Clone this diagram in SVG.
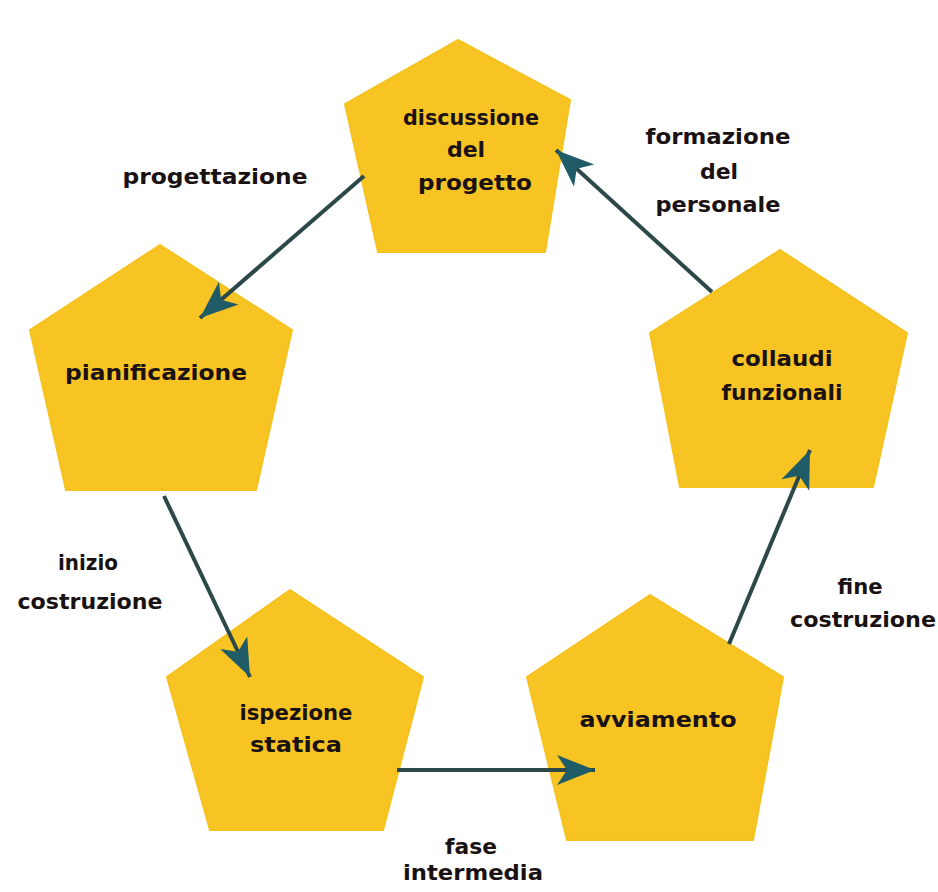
<svg xmlns="http://www.w3.org/2000/svg" width="938" height="892" viewBox="0 0 938 892">
<defs>
<style>
.node{fill:#F8C424;stroke:#F5C21E;stroke-width:2;stroke-linejoin:round}
.t{font-family:"DejaVu Sans","Liberation Sans",sans-serif;font-weight:bold;font-size:22px;fill:#1a1212;text-anchor:middle}
.con{stroke:#2c4848;stroke-width:4;fill:none}
</style>
<marker id="ah" markerUnits="userSpaceOnUse" markerWidth="44" markerHeight="34" refX="40" refY="15" orient="auto">
<path d="M40,15 L2,0 L12,15 L2,30 Z" fill="#1f5c68"/>
</marker>
</defs>
<rect width="938" height="892" fill="#ffffff"/>

<g id="node-discussione">
<polygon class="node" points="458,40 570,100 545,252 378,252 345,104"/>
<text class="t" x="471" y="125" textLength="136" lengthAdjust="spacingAndGlyphs">discussione</text>
<text class="t" x="466" y="157">del</text>
<text class="t" x="475" y="190" textLength="114" lengthAdjust="spacingAndGlyphs">progetto</text>
</g>

<g id="node-pianificazione">
<polygon class="node" points="160,245 292,330 256,490 66,490 30,330"/>
<text class="t" x="156" y="380" textLength="182" lengthAdjust="spacingAndGlyphs">pianificazione</text>
</g>

<g id="node-collaudi">
<polygon class="node" points="780,250 907,333 873,487 680,487 650,333"/>
<text class="t" x="782" y="366" textLength="101" lengthAdjust="spacingAndGlyphs">collaudi</text>
<text class="t" x="782" y="400" textLength="121" lengthAdjust="spacingAndGlyphs">funzionali</text>
</g>

<g id="node-ispezione">
<polygon class="node" points="290,590 423,677 383,830 210,830 167,677"/>
<text class="t" x="296" y="720" textLength="113" lengthAdjust="spacingAndGlyphs">ispezione</text>
<text class="t" x="296" y="752" textLength="92" lengthAdjust="spacingAndGlyphs">statica</text>
</g>

<g id="node-avviamento">
<polygon class="node" points="650,595 783,677 753,840 567,840 527,677"/>
<text class="t" x="658" y="727" textLength="157" lengthAdjust="spacingAndGlyphs">avviamento</text>
</g>

<g id="connectors">
<line class="con" x1="364" y1="176" x2="200" y2="318" marker-end="url(#ah)"/>
<line class="con" x1="164" y1="496" x2="250" y2="677" marker-end="url(#ah)"/>
<line class="con" x1="397" y1="770" x2="595" y2="770" marker-end="url(#ah)"/>
<line class="con" x1="729" y1="644" x2="810" y2="450" marker-end="url(#ah)"/>
<line class="con" x1="712" y1="292" x2="556" y2="150" marker-end="url(#ah)"/>
</g>

<g id="labels">
<text class="t" x="215" y="184" textLength="185" lengthAdjust="spacingAndGlyphs">progettazione</text>
<text class="t" x="718" y="144" textLength="145" lengthAdjust="spacingAndGlyphs">formazione</text>
<text class="t" x="719" y="179">del</text>
<text class="t" x="718" y="212" textLength="125" lengthAdjust="spacingAndGlyphs">personale</text>
<text class="t" x="88" y="570" textLength="60" lengthAdjust="spacingAndGlyphs">inizio</text>
<text class="t" x="90" y="609" textLength="145" lengthAdjust="spacingAndGlyphs">costruzione</text>
<text class="t" x="860" y="594" textLength="45" lengthAdjust="spacingAndGlyphs">fine</text>
<text class="t" x="863" y="627" textLength="146" lengthAdjust="spacingAndGlyphs">costruzione</text>
<text class="t" x="471" y="854" textLength="52" lengthAdjust="spacingAndGlyphs">fase</text>
<text class="t" x="473" y="880" textLength="140" lengthAdjust="spacingAndGlyphs">intermedia</text>
</g>
</svg>
